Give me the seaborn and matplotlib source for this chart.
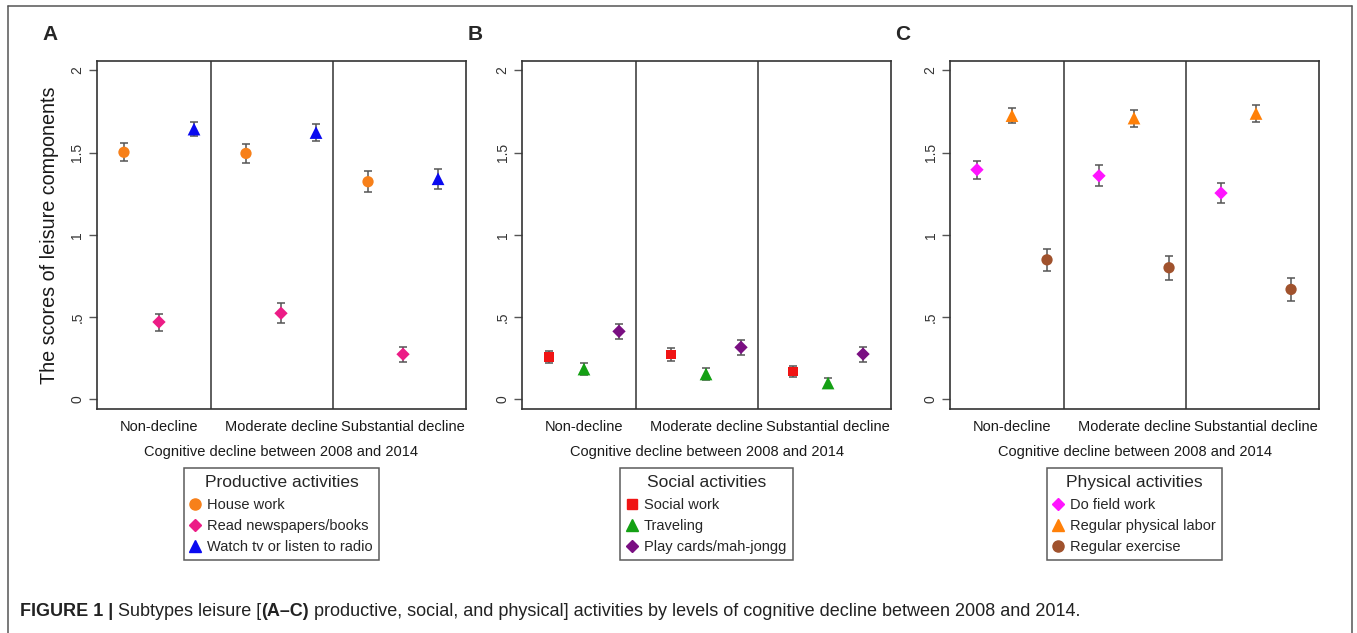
import matplotlib
matplotlib.use('Agg')
import numpy as np
import pandas as pd
import matplotlib.pyplot as plt
from matplotlib.lines import Line2D
import seaborn as sns

# cognitive decline levels (x categories)
levels = ['Non-decline', 'Moderate decline', 'Substantial decline']

# A: productive activities
prod_labels = ['House work', 'Read newspapers/books', 'Watch tv or listen to radio']
prod_mean = [[1.502, 1.495, 1.323], [0.470, 0.523, 0.274], [1.643, 1.622, 1.341]]
prod_lo = [[1.448, 1.436, 1.260], [0.417, 0.462, 0.225], [1.600, 1.569, 1.280]]
prod_hi = [[1.556, 1.552, 1.386], [0.520, 0.584, 0.320], [1.686, 1.674, 1.402]]

# B: social activities
soc_labels = ['Social work', 'Traveling', 'Play cards/mah-jongg']
soc_mean = [[0.256, 0.273, 0.169], [0.184, 0.154, 0.099], [0.413, 0.316, 0.275]]
soc_lo = [[0.219, 0.231, 0.137], [0.147, 0.117, 0.068], [0.366, 0.269, 0.229]]
soc_hi = [[0.294, 0.314, 0.200], [0.220, 0.190, 0.130], [0.460, 0.362, 0.320]]

# C: physical activities
phys_labels = ['Do field work', 'Regular physical labor', 'Regular exercise']
phys_mean = [[1.396, 1.359, 1.254], [1.725, 1.710, 1.738], [0.848, 0.800, 0.668]]
phys_lo = [[1.342, 1.297, 1.191], [1.678, 1.658, 1.688], [0.780, 0.728, 0.600]]
phys_hi = [[1.451, 1.422, 1.317], [1.771, 1.761, 1.787], [0.916, 0.873, 0.737]]

y_ticks = [0, 0.5, 1, 1.5, 2]
y_tick_labels = ['0', '.5', '1', '1.5', '2']

panels = [
    dict(letter='A', title='Productive activities', labels=prod_labels, mean=prod_mean,
         lo=prod_lo, hi=prod_hi, colors=['#F7801A', '#EC1C86', '#0A0AF0'],
         markers=['o', 'D', '^'], left=97),
    dict(letter='B', title='Social activities', labels=soc_labels, mean=soc_mean,
         lo=soc_lo, hi=soc_hi, colors=['#F01414', '#14A014', '#7A0F82'],
         markers=['s', '^', 'D'], left=522),
    dict(letter='C', title='Physical activities', labels=phys_labels, mean=phys_mean,
         lo=phys_lo, hi=phys_hi, colors=['#FF14FF', '#FF8008', '#A0522D'],
         markers=['D', '^', 'o'], left=950),
]

marker_size = {'o': 66, 'D': 46, '^': 84, 's': 48}
legend_ms = {'o': 8, 'D': 6.5, '^': 8.5, 's': 6.5}

W, H = 1357, 633
sns.set_style('white')
plt.rcParams['font.family'] = ['Liberation Sans', 'DejaVu Sans']

fig = plt.figure(figsize=(W / 100, H / 100), dpi=100)
edge = '#333333'


def px(x, y):
    return x / W, 1 - y / H


for p in panels:
    # long table for this panel
    rows = []
    for i, act in enumerate(p['labels']):
        for j, lev in enumerate(levels):
            rows.append(dict(level=lev, activity=act,
                             x=j + (i - 1) * 0.287,
                             score=p['mean'][i][j], lo=p['lo'][i][j], hi=p['hi'][i][j]))
    df = pd.DataFrame(rows)

    x0, y0 = px(p['left'], 409)
    ax = fig.add_axes([x0, y0, 369 / W, 348 / H])

    # confidence intervals, then the markers on top
    ax.errorbar(df['x'], df['score'], yerr=[df['score'] - df['lo'], df['hi'] - df['score']],
                fmt='none', ecolor='#555555', elinewidth=1.1, capsize=2.6, capthick=1.1, zorder=2)
    sns.scatterplot(data=df, x='x', y='score', hue='activity', style='activity',
                    palette=dict(zip(p['labels'], p['colors'])),
                    markers=dict(zip(p['labels'], p['markers'])),
                    size='activity', sizes=dict(zip(p['labels'], [marker_size[m] for m in p['markers']])),
                    edgecolor='none', linewidth=0, legend=False, ax=ax, zorder=3)

    # separators between decline levels
    for xv in [0.43, 1.43]:
        ax.axvline(xv, color=edge, lw=1.1, zorder=1)

    ax.set_xlim(-0.508, 2.516)
    ax.set_ylim(-0.059, 2.057)
    ax.set_xticks(range(len(levels)))
    ax.set_xticklabels(levels, fontsize=10.5, color='#1a1a1a')
    ax.tick_params(axis='x', length=0, pad=8)
    ax.set_yticks(y_ticks)
    ax.set_yticklabels(y_tick_labels, rotation=90, va='center', fontsize=10, color='#333333')
    ax.tick_params(axis='y', direction='out', length=6, width=1, color='#555555', pad=3, left=True)
    ax.set_xlabel('Cognitive decline between 2008 and 2014', fontsize=10.5, color='#1a1a1a', labelpad=8)
    ax.set_ylabel('The scores of leisure components' if p['letter'] == 'A' else '',
                  fontsize=14.2, color='#1a1a1a', labelpad=8)
    for s in ax.spines.values():
        s.set_color(edge)
        s.set_linewidth(1.2)

    # legend box under each panel
    handles = [Line2D([], [], marker=m, color=c, linestyle='none', markersize=legend_ms[m])
               for m, c in zip(p['markers'], p['colors'])]
    cx = (p['left'] + 369 / 2) / W
    leg = ax.legend(handles, p['labels'], title=p['title'], loc='upper center',
                    bbox_to_anchor=(cx, 1 - 468 / H), bbox_transform=fig.transFigure,
                    frameon=True, fancybox=False, edgecolor=edge, fontsize=10.5,
                    title_fontsize=12.5, handlelength=0.7, handletextpad=0.45,
                    borderpad=0.45, labelspacing=0.48, borderaxespad=0)
    leg.get_frame().set_linewidth(1.1)
    leg._legend_box.sep = 6

    lx, ly = px(p['left'] - 47, 34)
    fig.text(lx, ly, p['letter'], fontsize=15, fontweight='bold', ha='center', va='center')

# outer border
for xs, ys in [([8, 8], [6, 640]), ([8, 1352], [6, 6]), ([1352, 1352], [6, 640])]:
    fig.add_artist(Line2D([x / W for x in xs], [1 - y / H for y in ys], color='#555555', lw=1.1))

# caption with mixed bold pieces
pieces = [('FIGURE 1 | ', 'bold'), ('Subtypes leisure [', 'normal'), ('(A\u2013C)', 'bold'),
          (' productive, social, and physical] activities by levels of cognitive decline between 2008 and 2014.', 'normal')]
renderer = fig.canvas.get_renderer()
cur = 20 / W
for txt, wgt in pieces:
    t = fig.text(cur, 1 - 612 / H, txt, fontsize=13, fontweight=wgt, va='center', ha='left', color='#222222')
    bb = t.get_window_extent(renderer=renderer)
    cur = bb.x1 / W

fig.savefig('out.png', dpi=100)
